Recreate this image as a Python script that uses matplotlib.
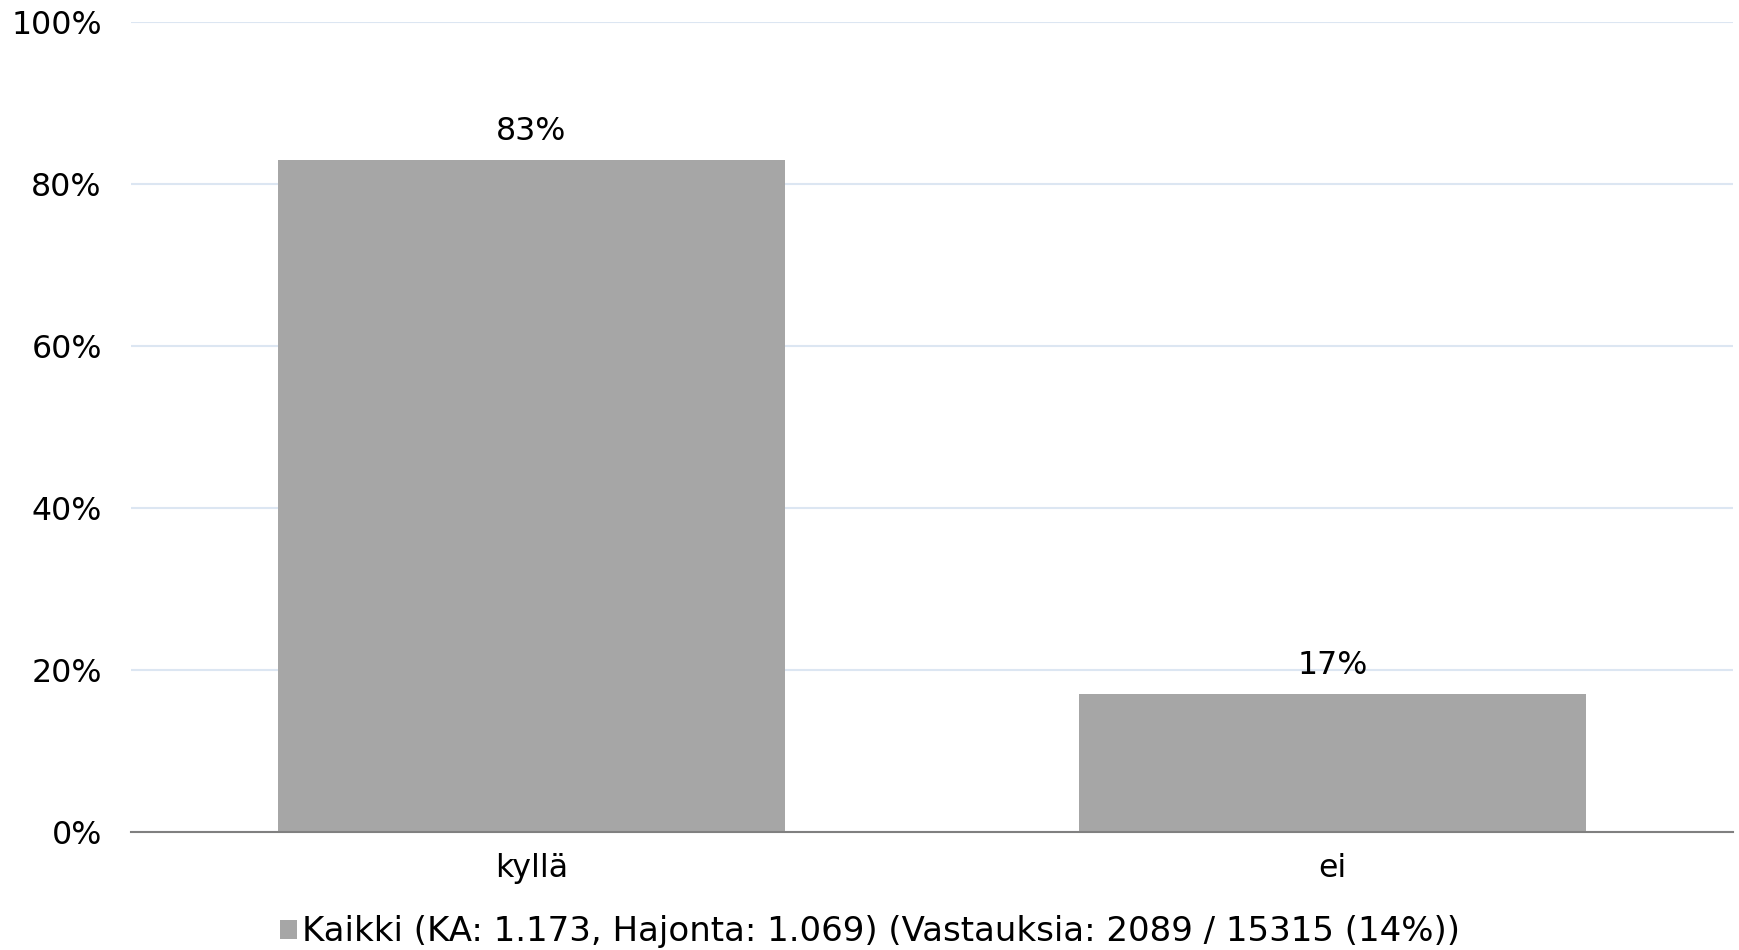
import matplotlib
matplotlib.use("Agg")
import matplotlib.pyplot as plt
from matplotlib.patches import Patch

categories = ["kyllä", "ei"]
values = [83, 17]
legend_label = "Kaikki (KA: 1.173, Hajonta: 1.069) (Vastauksia: 2089 / 15315 (14%))"
y_ticks = [0, 20, 40, 60, 80, 100]

# wider sans to mimic the letter-spaced text of the original
plt.rcParams["font.family"] = ["DejaVu Sans"]
FS = 22.8

fig = plt.figure(figsize=(17.4, 9.5), dpi=100)
# axes placed to match the reference: x 131..1733 px, y 22..832 px
ax = fig.add_axes([131 / 1740, 1 - 832 / 950, (1733 - 131) / 1740, (832 - 22) / 950])

x = range(len(categories))
bars = ax.bar(x, values, width=0.634, color="#a6a6a6", zorder=3,
              edgecolor="none")

# data labels
for b, v in zip(bars, values):
    ax.text(b.get_x() + b.get_width() / 2, v + 1.6, f"{v}%",
            ha="center", va="bottom", fontsize=FS, color="#000000")

ax.set_xlim(-0.5, len(categories) - 0.5)
ax.set_ylim(0, 100)
ax.set_yticks(y_ticks)
ax.set_yticklabels([f"{t}%" for t in y_ticks], fontsize=FS)
ax.set_xticks(list(x))
ax.set_xticklabels(categories, fontsize=FS)
ax.tick_params(axis="both", length=0, colors="#000000")
ax.tick_params(axis="y", pad=21)
ax.tick_params(axis="x", pad=15)

ax.grid(axis="y", color="#dce6f2", linewidth=1.5, zorder=0)
for side in ["top", "right", "left"]:
    ax.spines[side].set_visible(False)
ax.spines["bottom"].set_color("#808080")
ax.spines["bottom"].set_linewidth(1.5)
ax.spines["bottom"].set_zorder(4)

handle = Patch(facecolor="#a6a6a6", edgecolor="none")
fig.legend([handle], [legend_label], loc="center", bbox_to_anchor=(0.5, 1 - 932 / 950),
           frameon=False, fontsize=24.5, handlelength=0.5, handleheight=0.5,
           handletextpad=0.15)

fig.savefig("out.png", dpi=100)
